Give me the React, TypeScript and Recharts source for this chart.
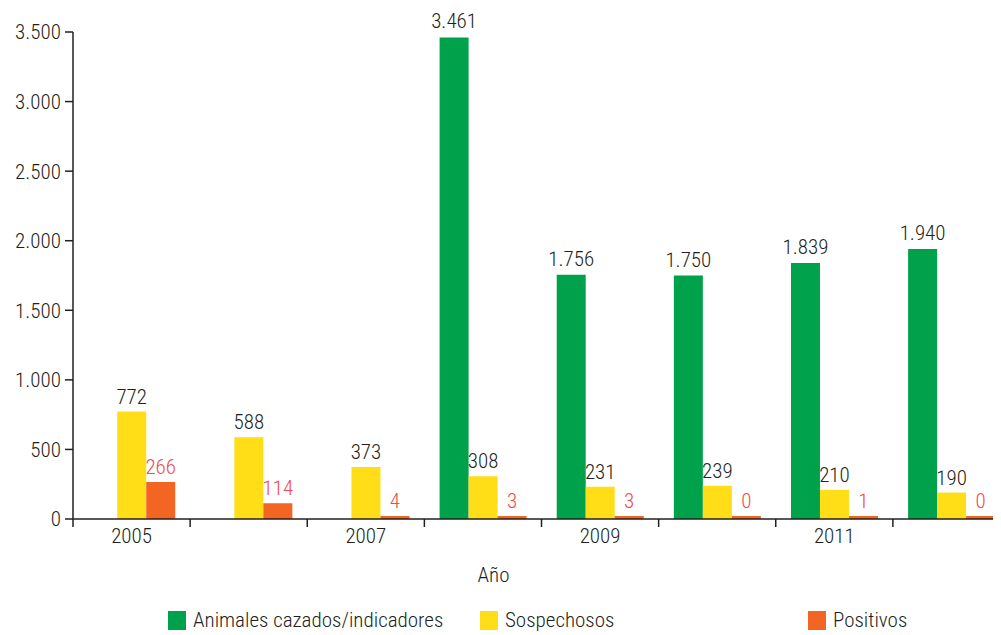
import React from 'react';
import { BarChart, Bar, XAxis, YAxis, LabelList, Legend, Label } from 'recharts';

const categories = ['2005', '2006', '2007', '2008', '2009', '2010', '2011', '2012'];
const cazados: (number | null)[] = [null, null, null, 3461, 1756, 1750, 1839, 1940];
const sospechosos = [772, 588, 373, 308, 231, 239, 210, 190];
const positivos = [266, 114, 4, 3, 3, 0, 1, 0];
const yTicks = [0, 500, 1000, 1500, 2000, 2500, 3000, 3500];

const seriesNames = ['Animales cazados/indicadores', 'Sospechosos', 'Positivos'];
const seriesColors = ['#00a14b', '#ffde17', '#f26522'];

const data = categories.map((c, i) => ({
  year: c,
  cazados: cazados[i],
  sospechosos: sospechosos[i],
  positivos: positivos[i],
}));

const FONT = "'Roboto Condensed', 'Liberation Sans Narrow', 'DejaVu Sans Condensed', sans-serif";
const FW = 300;
const FS = 21;
const TEXT = '#231f20';

const fmt = (v: any) => {
  if (v === null || v === undefined) return '';
  return String(v).replace(/\B(?=(\d{3})+(?!\d))/g, '.');
};

const XTick = (props: any) => {
  const { x, y, payload, index } = props;
  const bx = x - (payload.offset || 0);
  return (
    <g>
      <line x1={bx} y1={y} x2={bx} y2={y + 8} stroke={TEXT} strokeWidth={1.5} />
      {index % 2 === 0 ? (
        <text x={x} y={y + 24} textAnchor="middle" fill={TEXT} fontSize={FS} fontWeight={FW} fontFamily={FONT}>
          {payload.value}
        </text>
      ) : null}
    </g>
  );
};

const LegendContent = () => (
  <div style={{ display: 'flex', fontFamily: FONT, fontWeight: FW, fontSize: FS, color: TEXT, whiteSpace: 'nowrap', width: 800 }}>
    {seriesNames.map((n, i) => (
      <div key={n} style={{ display: 'flex', alignItems: 'center', flexShrink: 0, width: i === 0 ? 312 : 328 }}>
        <div style={{ width: 18, height: 19, background: seriesColors[i], marginRight: 7, flexShrink: 0 }} />
        <span>{n}</span>
      </div>
    ))}
  </div>
);

export default function App() {
  return (
    <div style={{ width: 993, height: 627, overflow: 'hidden' }}>
      <BarChart
        width={1010}
        height={627}
        data={data}
        margin={{ top: 24, right: 8, left: 0, bottom: 56 }}
        barCategoryGap="13%"
        barGap={0}
        style={{ fontFamily: FONT }}
      >
        <XAxis
          dataKey="year"
          interval={0}
          tickSize={0}
          tickMargin={0}
          tickLine={false}
          axisLine={{ stroke: TEXT, strokeWidth: 1.5 }}
          tick={<XTick />}
          height={60}
        >
          <Label value="Año" position="bottom" offset={-12} dx={-48} fill={TEXT} fontSize={FS} fontWeight={FW} fontFamily={FONT} />
        </XAxis>
        <YAxis
          domain={[0, 3500]}
          ticks={yTicks}
          width={65}
          tickSize={8}
          tickMargin={4}
          tickFormatter={fmt}
          axisLine={{ stroke: TEXT, strokeWidth: 1.5 }}
          tickLine={{ stroke: TEXT, strokeWidth: 1.5 }}
          tick={{ fill: TEXT, fontSize: FS, fontWeight: FW, fontFamily: FONT }}
          interval={0}
        />
        <Legend
          layout="vertical"
          align="center"
          verticalAlign="middle"
          content={<LegendContent />}
          wrapperStyle={{ top: 600, left: 160, width: 800 }}
        />
        <Bar dataKey="cazados" name={seriesNames[0]} fill={seriesColors[0]} isAnimationActive={false}>
          <LabelList dataKey="cazados" position="top" offset={9} formatter={fmt} fill={TEXT} fontSize={FS} fontWeight={FW} fontFamily={FONT} />
        </Bar>
        <Bar dataKey="sospechosos" name={seriesNames[1]} fill={seriesColors[1]} isAnimationActive={false}>
          <LabelList dataKey="sospechosos" position="top" offset={8} formatter={fmt} fill={TEXT} fontSize={FS} fontWeight={FW} fontFamily={FONT} />
        </Bar>
        <Bar dataKey="positivos" name={seriesNames[2]} fill={seriesColors[2]} minPointSize={3} isAnimationActive={false}>
          <LabelList dataKey="positivos" position="top" offset={8} formatter={fmt} fill="#ef4b4b" fontSize={FS} fontWeight={FW} fontFamily={FONT} />
        </Bar>
      </BarChart>
    </div>
  );
}
